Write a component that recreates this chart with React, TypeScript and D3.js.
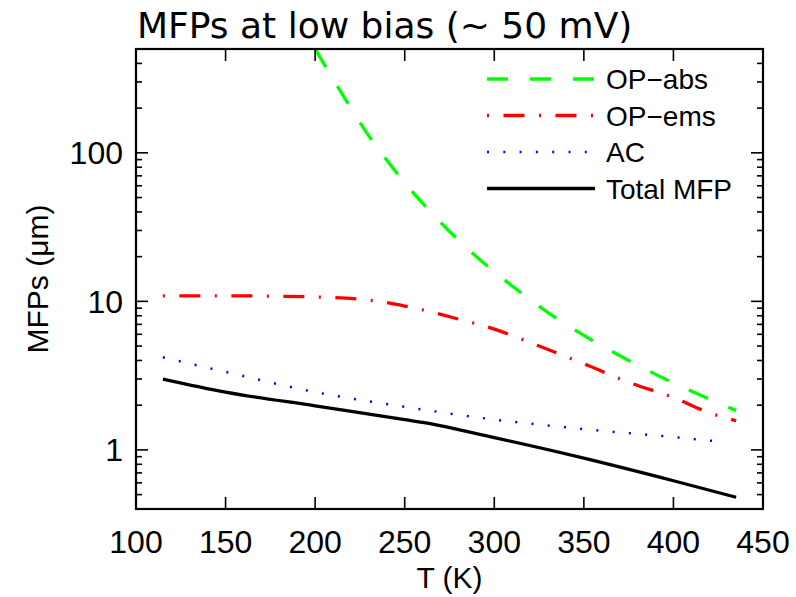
import * as d3 from "d3";
import { useEffect, useRef } from "react";

// temperature grid (K) and mean free paths (um)
const tAbs = [200, 215, 230, 250, 270, 290, 310, 330, 350, 375, 400, 420, 435];
const opAbs = [500, 250, 130, 63, 34, 20, 12.7, 8.4, 5.9, 4.0, 2.82, 2.2, 1.84];

const tEms = [115, 150, 200, 230, 250, 280, 300, 325, 350, 375, 400, 420, 435];
const opEms = [10.9, 10.9, 10.7, 10.2, 9.3, 7.6, 6.5, 5.0, 3.8, 2.85, 2.25, 1.78, 1.57];

const tAc = [115, 150, 200, 250, 300, 350, 400, 428];
const ac = [4.2, 3.35, 2.45, 1.95, 1.6, 1.38, 1.22, 1.13];

const tTot = [115, 150, 200, 250, 260, 300, 350, 400, 435];
const total = [3.0, 2.45, 1.98, 1.6, 1.53, 1.21, 0.88, 0.62, 0.48];

const xTicks = [100, 150, 200, 250, 300, 350, 400, 450];
const yTicks = [1, 10, 100];

const legendItems = [
  { label: "OP\u2212abs", color: "#00ff00", dash: "21,22", width: 3.3 },
  { label: "OP\u2212ems", color: "#ff0000", dash: "2,14.5,21,14.5", width: 3.3 },
  { label: "AC", color: "#0000ff", dash: "2,14.3", width: 2.5 },
  { label: "Total MFP", color: "#000000", dash: null, width: 3.3 },
];

const seriesData = [
  { t: tAbs, v: opAbs },
  { t: tEms, v: opEms },
  { t: tAc, v: ac },
  { t: tTot, v: total },
];

export default function App() {
  const ref = useRef<SVGSVGElement>(null);

  useEffect(() => {
    if (!ref.current) return;
    const svg = d3.select(ref.current);
    svg.selectAll("*").remove();

    const width = 796,
      height = 597,
      margin = { top: 49, right: 33, bottom: 88, left: 136 };
    const font = "'Liberation Sans', Arial, Helvetica, sans-serif";

    const x = d3.scaleLinear().domain([100, 450]).range([margin.left, width - margin.right]);
    const y = d3.scaleLog().domain([0.4, 500]).range([height - margin.bottom, margin.top]);

    const x0 = margin.left,
      x1 = width - margin.right,
      y0 = height - margin.bottom,
      y1 = margin.top;

    svg.append("rect").attr("width", width).attr("height", height).attr("fill", "#fff");

    svg
      .append("defs")
      .append("clipPath")
      .attr("id", "plotClip")
      .append("rect")
      .attr("x", x0)
      .attr("y", y1)
      .attr("width", x1 - x0)
      .attr("height", y0 - y1);

    // Lines
    const line = d3
      .line<[number, number]>()
      .x((d) => x(d[0]))
      .y((d) => y(d[1]))
      .curve(d3.curveMonotoneX);

    const lines = svg.append("g").attr("clip-path", "url(#plotClip)");
    seriesData.forEach((s, i) => {
      const pts: [number, number][] = s.t.map((t, j) => [t, s.v[j]]);
      const it = legendItems[i];
      lines
        .append("path")
        .attr("d", line(pts))
        .attr("fill", "none")
        .attr("stroke", it.color)
        .attr("stroke-width", it.width)
        .attr("stroke-dasharray", it.dash)
        .attr("stroke-linecap", "butt");
    });

    // Ticks
    const ticks = svg.append("g").attr("stroke", "#000").attr("stroke-width", 1.6);
    xTicks.slice(1, -1).forEach((t) => {
      ticks.append("line").attr("x1", x(t)).attr("x2", x(t)).attr("y1", y0).attr("y2", y0 - 12);
      ticks.append("line").attr("x1", x(t)).attr("x2", x(t)).attr("y1", y1).attr("y2", y1 + 12);
    });
    const minor: number[] = [];
    [0.1, 1, 10, 100].forEach((p) => {
      for (let k = 2; k <= 9; k++) {
        const v = +(k * p).toPrecision(3);
        if (v >= 0.4 && v <= 500) minor.push(v);
      }
    });
    minor.forEach((v) => {
      ticks.append("line").attr("x1", x0).attr("x2", x0 + 6).attr("y1", y(v)).attr("y2", y(v));
      ticks.append("line").attr("x1", x1).attr("x2", x1 - 6).attr("y1", y(v)).attr("y2", y(v));
    });
    yTicks.forEach((v) => {
      ticks.append("line").attr("x1", x0).attr("x2", x0 + 12).attr("y1", y(v)).attr("y2", y(v));
      ticks.append("line").attr("x1", x1).attr("x2", x1 - 12).attr("y1", y(v)).attr("y2", y(v));
    });

    // Frame
    svg
      .append("rect")
      .attr("x", x0)
      .attr("y", y1)
      .attr("width", x1 - x0)
      .attr("height", y0 - y1)
      .attr("fill", "none")
      .attr("stroke", "#000")
      .attr("stroke-width", 2.2);

    // Tick labels
    svg
      .append("g")
      .selectAll("text")
      .data(xTicks)
      .enter()
      .append("text")
      .attr("x", (d) => x(d))
      .attr("y", y0 + 44)
      .attr("text-anchor", "middle")
      .attr("font-family", font)
      .attr("font-size", 32)
      .text((d) => d);

    svg
      .append("g")
      .selectAll("text")
      .data(yTicks)
      .enter()
      .append("text")
      .attr("x", x0 - 13)
      .attr("y", (d) => y(d) + 11.5)
      .attr("text-anchor", "end")
      .attr("font-family", font)
      .attr("font-size", 32)
      .text((d) => d);

    // Axis labels
    svg
      .append("text")
      .attr("x", (x0 + x1) / 2)
      .attr("y", 588)
      .attr("text-anchor", "middle")
      .attr("font-family", font)
      .attr("font-size", 30)
      .text("T (K)");

    svg
      .append("text")
      .attr("transform", `translate(48, ${(y0 + y1) / 2}) rotate(-90)`)
      .attr("text-anchor", "middle")
      .attr("font-family", font)
      .attr("font-size", 30)
      .text("MFPs (\u03bcm)");

    // Title
    svg
      .append("text")
      .attr("x", x0 + 1)
      .attr("y", 38)
      .attr("font-family", "'DejaVu Sans', sans-serif")
      .attr("font-size", 36)
      .text("MFPs at low bias (~ 50 mV)");

    // Legend
    const legend = svg.append("g");
    legendItems.forEach((it, i) => {
      const ly = 79 + i * 36.5;
      legend
        .append("line")
        .attr("x1", 487)
        .attr("x2", 595)
        .attr("y1", ly)
        .attr("y2", ly)
        .attr("stroke", it.color)
        .attr("stroke-width", it.width)
        .attr("stroke-dasharray", it.dash);
      legend
        .append("text")
        .attr("x", 606)
        .attr("y", ly + 10)
        .attr("font-family", font)
        .attr("font-size", 28)
        .text(it.label);
    });
  }, []);

  return (
    <svg
      ref={ref}
      width={796}
      height={597}
      style={{ position: "absolute", left: 0, top: 0, display: "block" }}
    />
  );
}
